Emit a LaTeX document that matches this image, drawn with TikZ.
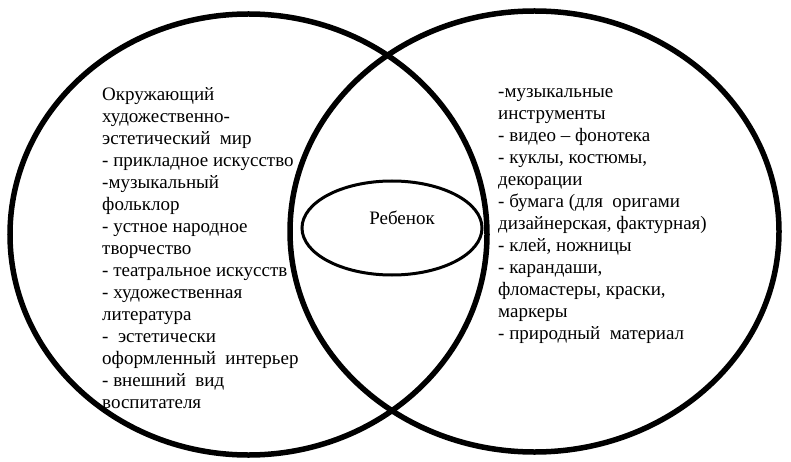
\documentclass[tikz,border=0pt]{standalone}
\usepackage{fontspec}
\setmainfont{Liberation Serif}
\begin{document}
\begin{tikzpicture}[x=1pt, y=-1pt]
\def \xleftc      {248.5}
\def \xrightc     {534.5}
\def \yleftc      {234.5}
\def \yrightc     {231.5}
\def \rxleft      {238.5}
\def \rxright     {244.5}
\def \ryleft      {220.5}
\def \ryright     {220.5}

\def \xchild      {392}
\def \ychild      {228}
\tikzset{list/.style={anchor=north west, align=left, inner sep=0pt,
  font=\fontsize{19}{22}\selectfont}}
\useasboundingbox (0,0) rectangle (791,462);
\fill [white] (0,0) rectangle (791,462);

% circles
\coordinate (leftc)  at (\xleftc, \yleftc);
\coordinate (rightc) at (\xrightc, \yrightc);
\coordinate (childc) at (\xchild, \ychild);
\draw [line width=5.5pt] (leftc) ellipse [x radius=\rxleft pt, y radius=\ryleft pt];
\draw [line width=5.5pt] (rightc) ellipse [x radius=\rxright pt, y radius=\ryright pt];
% child
\draw [line width=3pt] (childc) ellipse [x radius=90pt, y radius=47pt];
\node [font=\fontsize{19}{22}\selectfont] (child) at (402, 218) {Ребенок};

% left list
\node [list] (world) at (102, 84.5) {\strut Окружающий\\
художественно-\\
эстетический\ \ мир\\
- прикладное искусство\\
-музыкальный\\
фольклор\\
- устное народное\\
творчество\\
- театральное искусств\\
- художественная\\
литература\\
-\ \ эстетически\\
оформленный\ \ интерьер\\
- внешний\ \ вид\\
воспитателя};
% right list
\node [list] (things) at (498, 81.5) {\strut -музыкальные\\
инструменты\\
- видео -- фонотека\\
- куклы, костюмы,\\
декорации\\
- бумага (для\ \ оригами\\
дизайнерская, фактурная)\\
- клей, ножницы\\
- карандаши,\\
фломастеры, краски,\\
маркеры\\
- природный\ \ материал};

\end{tikzpicture}
\end{document}
